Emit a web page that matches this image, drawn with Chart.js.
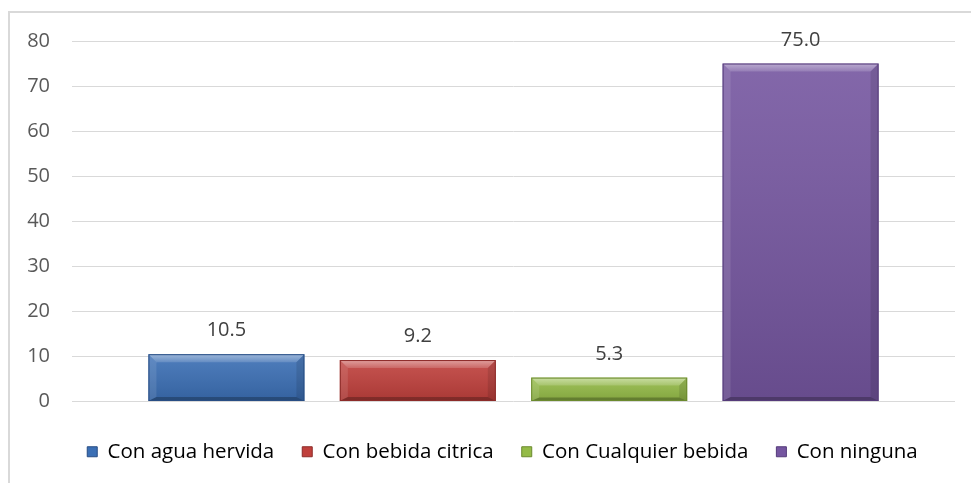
<!DOCTYPE html>
<html>
<head>
<meta charset="utf-8">
<script src="https://cdn.jsdelivr.net/npm/chart.js@4/dist/chart.umd.min.js"></script>
<style>
  html, body { margin: 0; padding: 0; background: #ffffff; }
  #wrap { position: relative; width: 971px; height: 483px; }
</style>
</head>
<body>
<div id="wrap"><canvas id="chart" width="971" height="483"></canvas></div>
<script>
const categories = [""];
const seriesNames = ["Con agua hervida", "Con bebida citrica", "Con Cualquier bebida", "Con ninguna"];
const seriesValues = [10.5, 9.2, 5.3, 75.0];
const seriesColors = ["#3b6fb5", "#c0403c", "#94bb47", "#7556a0"];
const seriesBorders = ["#284d84", "#8c2b29", "#6b8a2e", "#553b7a"];
const yTicks = [0, 10, 20, 30, 40, 50, 60, 70, 80];

Chart.defaults.font.family = "'Open Sans', sans-serif";
Chart.defaults.font.size = 20;
Chart.defaults.color = "#595959";

// outer frame of the chart (only left and top edges fall inside the picture)
const framePlugin = {
    id: "frame",
    beforeDraw(chart) {
        const ctx = chart.ctx;
        ctx.save();
        ctx.strokeStyle = "#d9d9d9";
        ctx.lineWidth = 2;
        ctx.beginPath();
        ctx.moveTo(9, chart.height);
        ctx.lineTo(9, 12);
        ctx.lineTo(chart.width, 12);
        ctx.stroke();
        ctx.restore();
    }
};

// legend sits a bit right of the canvas centre in the original
const legendShift = {
    id: "legendShift",
    afterLayout(chart) {
        chart.legend.left += 25;
        chart.legend.right += 25;
    }
};

// bevel look on each bar, drawn over the bar the library placed
const bevelPlugin = {
    id: "bevel",
    afterDatasetsDraw(chart) {
        const ctx = chart.ctx;
        chart.data.datasets.forEach(function (ds, i) {
            const meta = chart.getDatasetMeta(i);
            meta.data.forEach(function (bar) {
                const p = bar.getProps(["x", "y", "base", "width"], true);
                const left = p.x - p.width / 2;
                const right = p.x + p.width / 2;
                const top = Math.min(p.y, p.base);
                const bottom = Math.max(p.y, p.base);
                const h = bottom - top;
                const bt = Math.min(8, h * 0.35);
                const bb = Math.min(4, h * 0.15);
                const bs = 8;

                ctx.save();
                let g = ctx.createLinearGradient(0, top, 0, bottom);
                g.addColorStop(0, "rgba(255,255,255,0.10)");
                g.addColorStop(1, "rgba(0,0,0,0.12)");
                ctx.fillStyle = g;
                ctx.fillRect(left, top, p.width, h);

                // top bevel
                let gt = ctx.createLinearGradient(0, top, 0, top + bt);
                gt.addColorStop(0, "rgba(255,255,255,0.45)");
                gt.addColorStop(1, "rgba(255,255,255,0.15)");
                ctx.fillStyle = gt;
                ctx.beginPath();
                ctx.moveTo(left, top);
                ctx.lineTo(right, top);
                ctx.lineTo(right - bs, top + bt);
                ctx.lineTo(left + bs, top + bt);
                ctx.closePath();
                ctx.fill();

                // left bevel
                ctx.fillStyle = "rgba(255,255,255,0.10)";
                ctx.beginPath();
                ctx.moveTo(left, top);
                ctx.lineTo(left + bs, top + bt);
                ctx.lineTo(left + bs, bottom - bb);
                ctx.lineTo(left, bottom);
                ctx.closePath();
                ctx.fill();

                // right bevel
                ctx.fillStyle = "rgba(0,0,0,0.10)";
                ctx.beginPath();
                ctx.moveTo(right, top);
                ctx.lineTo(right - bs, top + bt);
                ctx.lineTo(right - bs, bottom - bb);
                ctx.lineTo(right, bottom);
                ctx.closePath();
                ctx.fill();

                // bottom bevel
                ctx.fillStyle = "rgba(0,0,0,0.25)";
                ctx.beginPath();
                ctx.moveTo(left, bottom);
                ctx.lineTo(left + bs, bottom - bb);
                ctx.lineTo(right - bs, bottom - bb);
                ctx.lineTo(right, bottom);
                ctx.closePath();
                ctx.fill();

                ctx.strokeStyle = seriesBorders[i];
                ctx.lineWidth = 1;
                ctx.strokeRect(left + 0.5, top + 0.5, p.width - 1, h - 1);
                ctx.restore();
            });
        });
    }
};

// value labels above the bars
const valueLabelPlugin = {
    id: "valueLabels",
    afterDatasetsDraw(chart) {
        const ctx = chart.ctx;
        ctx.save();
        ctx.font = "20px 'Open Sans', sans-serif";
        ctx.fillStyle = "#404040";
        ctx.textAlign = "center";
        ctx.textBaseline = "alphabetic";
        chart.data.datasets.forEach(function (ds, i) {
            const meta = chart.getDatasetMeta(i);
            meta.data.forEach(function (bar, j) {
                ctx.fillText(ds.data[j].toFixed(1), bar.x, bar.y - 18);
            });
        });
        ctx.restore();
    }
};

const datasets = seriesNames.map(function (name, i) {
    return {
        label: name,
        data: [seriesValues[i]],
        backgroundColor: seriesColors[i],
        borderColor: seriesBorders[i],
        borderWidth: 0,
        barPercentage: 0.815,
        categoryPercentage: 0.867
    };
});

new Chart(document.getElementById("chart"), {
    type: "bar",
    data: { labels: categories, datasets: datasets },
    options: {
        responsive: false,
        animation: false,
        layout: { padding: { left: 0, right: 16, top: 41, bottom: 11 } },
        plugins: {
            tooltip: { enabled: false },
            legend: {
                position: "bottom",
                labels: {
                    boxWidth: 10,
                    boxHeight: 10,
                    padding: 28,
                    color: "#595959",
                    font: { size: 20.5 },
                    generateLabels: function (chart) {
                        return chart.data.datasets.map(function (ds, i) {
                            return {
                                text: ds.label,
                                fillStyle: seriesColors[i],
                                strokeStyle: seriesBorders[i],
                                lineWidth: 1,
                                datasetIndex: i
                            };
                        });
                    }
                }
            }
        },
        scales: {
            x: {
                grid: { display: false },
                border: { display: false },
                ticks: { display: false },
                afterFit: function (scale) { scale.height = 12; }
            },
            y: {
                min: 0,
                max: 80,
                border: { display: false },
                grid: { color: "#d9d9d9", lineWidth: 1, drawTicks: false },
                ticks: {
                    padding: 22,
                    color: "#595959",
                    stepSize: 10,
                    callback: function (v) { return yTicks.indexOf(v) >= 0 ? String(v) : ""; }
                },
                afterFit: function (scale) { scale.width = 72; }
            }
        }
    },
    plugins: [framePlugin, legendShift, bevelPlugin, valueLabelPlugin]
});
</script>
</body>
</html>
